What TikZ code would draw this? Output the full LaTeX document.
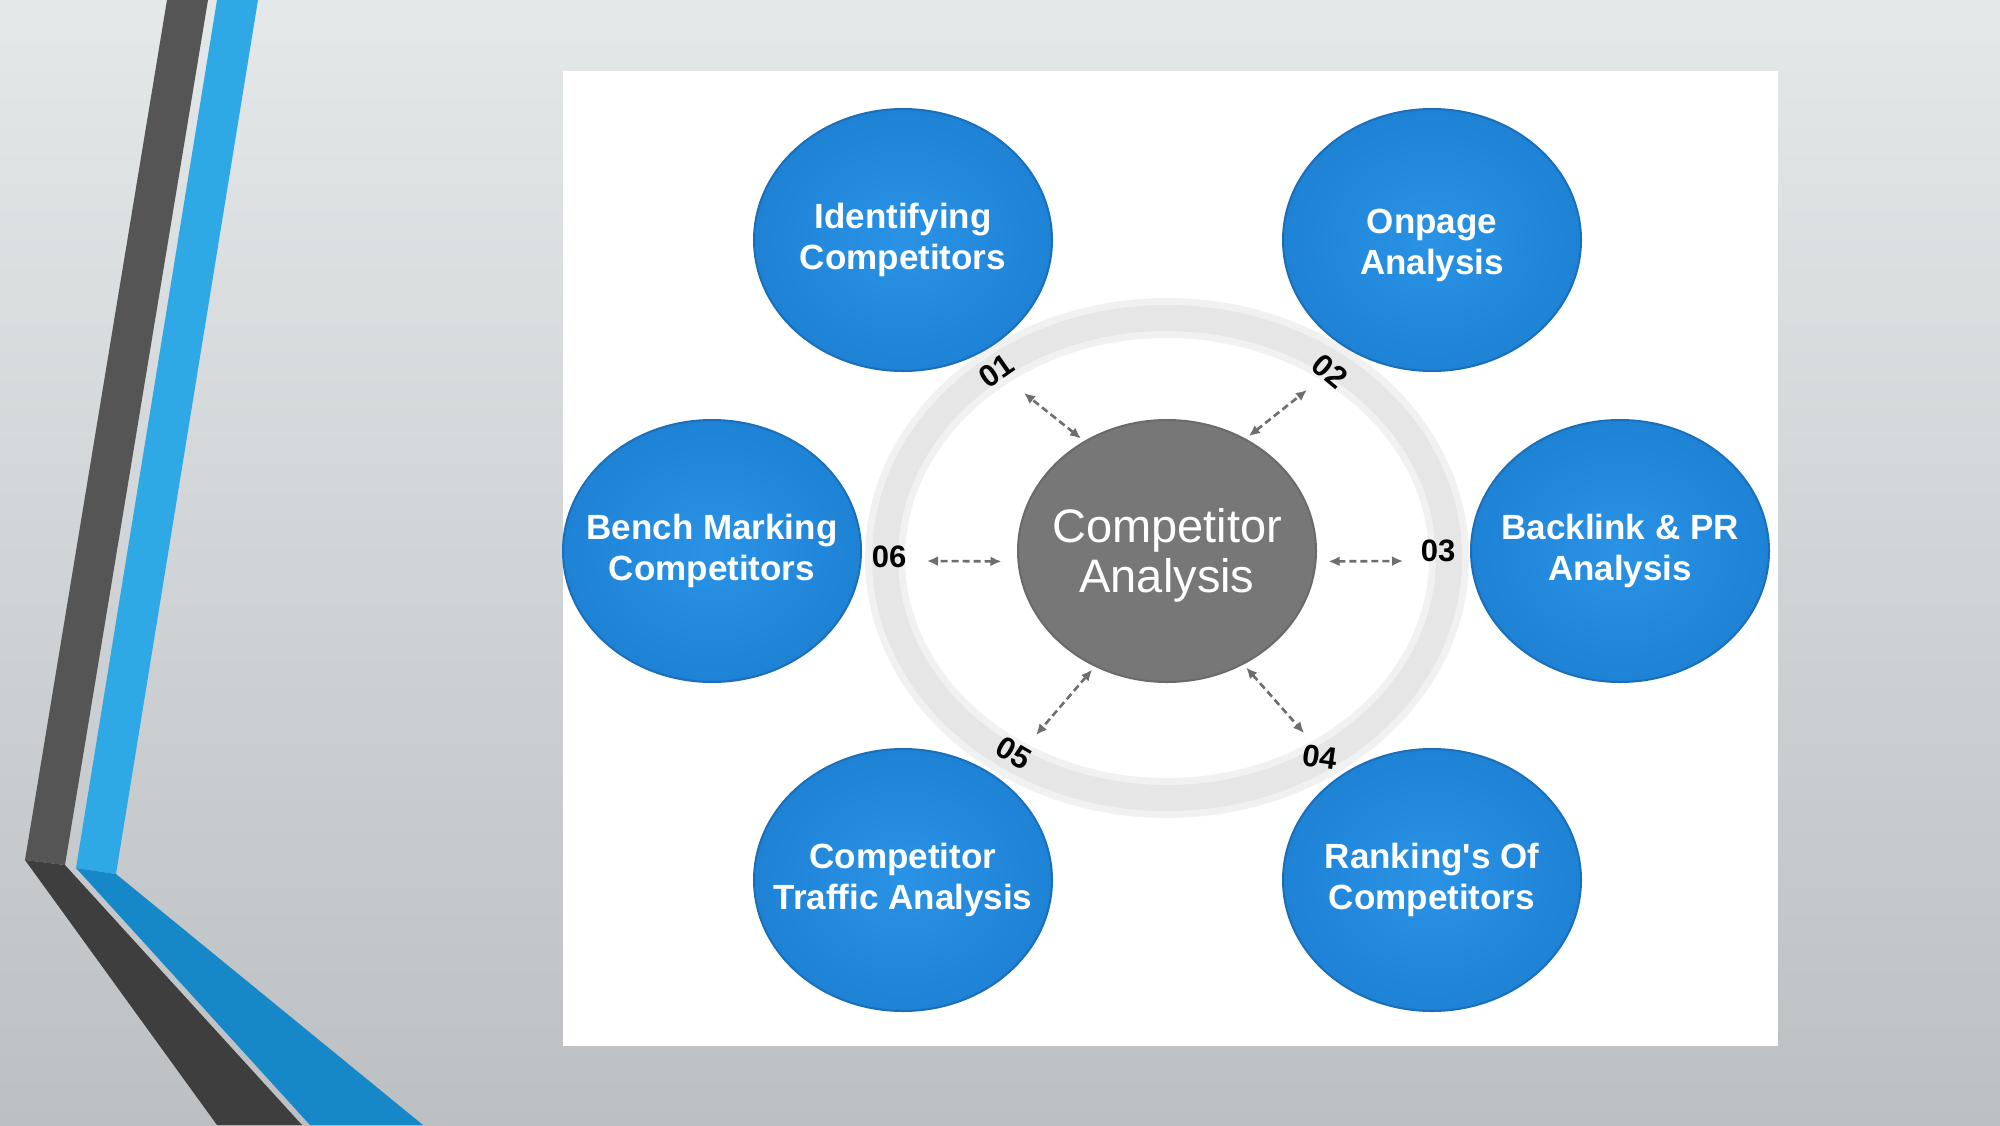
\documentclass[tikz,border=0pt]{standalone}
\usepackage{fontspec}
\setmainfont{Liberation Sans}
\usetikzlibrary{shapes.geometric,arrows.meta}
\definecolor{bgtop}{HTML}{E5E8E9}
\definecolor{bgbot}{HTML}{BCC0C3}
\definecolor{darkA}{HTML}{555555}
\definecolor{darkB}{HTML}{3E3E3E}
\definecolor{blueA}{HTML}{2EA9E6}
\definecolor{blueB}{HTML}{1688C8}
\definecolor{bubin}{HTML}{2A93E6}
\definecolor{bubout}{HTML}{1E82D5}
\definecolor{bubrim}{HTML}{1B6FBA}
\definecolor{cgray}{HTML}{777777}
\definecolor{cgrayrim}{HTML}{6A6A6A}
\definecolor{ringc}{HTML}{E6E6E6}
\definecolor{ringsoft}{HTML}{F1F1F1}
\definecolor{arrowgray}{HTML}{6E6E6E}
\begin{document}
\begin{tikzpicture}[x=1pt,y=-1pt,
  bub/.style={ellipse, inner sep=0pt, minimum width=298pt, minimum height=262pt,
    inner color=bubin, outer color=bubout, draw=bubrim, line width=2pt},
  hub/.style={ellipse, inner sep=0pt, minimum width=298pt, minimum height=262pt,
    fill=cgray, draw=cgrayrim, line width=2pt},
  bubtext/.style={text=white, align=center, font=\bfseries\fontsize{35pt}{41pt}\selectfont},
  hubtext/.style={text=white, align=center, font=\fontsize{47pt}{50pt}\selectfont},
  num/.style={text=black, font=\bfseries\fontsize{31pt}{34pt}\selectfont, inner sep=0pt},
  arr/.style={draw=arrowgray, line width=2.6pt, dash pattern=on 7pt off 4pt,
    {Latex[length=11pt,width=10pt]}-{Latex[length=11pt,width=10pt]}}
]
\useasboundingbox (0,0) rectangle (2000,1125);
% background
\shade[top color=bgtop, bottom color=bgbot] (0,0) rectangle (2000,1125);
% left decoration
\fill[darkA] (167,0) -- (208,0) -- (65,865) -- (25,860) -- cycle;
\fill[darkB] (25,860) -- (65,865) -- (302,1125) -- (217,1125) -- cycle;
\fill[blueA] (217,0) -- (258,0) -- (116,874) -- (76,868) -- cycle;
\fill[blueB] (76,868) -- (116,874) -- (423,1125) -- (310,1125) -- cycle;
% white panel
\fill[white] (563,71) rectangle (1778,1046);
% ring
\draw[ringsoft, line width=40pt] (1167,558) ellipse [x radius=282, y radius=240];
\draw[ringc, line width=26pt] (1167,558) ellipse [x radius=282, y radius=240];
% bubbles
\node[bub] (c1) at (903,240) {};
\node[bub] (c2) at (1432,240) {};
\node[bub] (c3) at (1620,551) {};
\node[bub] (c4) at (1432,880) {};
\node[bub] (c5) at (903,880) {};
\node[bub] (c6) at (712,551) {};
\node[hub] (ca) at (1167,551) {};
% texts
\node[bubtext] (t1) at (c1.center) {Identifying\\Competitors};
\node[bubtext] (t2) at ([yshift=-5pt]c2.center) {Onpage\\Analysis};
\node[bubtext] (t3) at (c3.center) {Backlink \& PR\\Analysis};
\node[bubtext] (t4) at (c4.center) {Ranking\textquotesingle s Of\\Competitors};
\node[bubtext] (t5) at (c5.center) {Competitor\\Traffic Analysis};
\node[bubtext] (t6) at (c6.center) {Bench Marking\\Competitors};
\node[hubtext] (ta) at ([yshift=-4pt]ca.center) {Competitor\\Analysis};
% numbers
\node[num, rotate=35] (n1) at (996,371) {01};
\node[num, rotate=-40] (n2) at (1330,371) {02};
\node[num] (n3) at (1438,551) {03};
\node[num, rotate=-8] (n4) at (1320,757) {04};
\node[num, rotate=-30] (n5) at (1014,753) {05};
\node[num] (n6) at (889,557) {06};
% arrow free ends
\coordinate (e1) at (1024,393);
\coordinate (e2) at (1307,390);
\coordinate (e3) at (1403,561);
\coordinate (e4) at (1304,733);
\coordinate (e5) at (1036,735);
\coordinate (e6) at (927,561);
% arrows
\draw[arr, shorten <=4pt] (ca.127) -- (e1);
\draw[arr, shorten <=4pt] (ca.55) -- (e2);
\draw[arr, shorten <=12pt] (ca.-4) -- (e3);
\draw[arr, shorten <=4pt] (ca.-56) -- (e4);
\draw[arr, shorten <=4pt] (ca.-122) -- (e5);
\draw[arr, shorten <=16pt] (ca.184) -- (e6);
\end{tikzpicture}
\end{document}
